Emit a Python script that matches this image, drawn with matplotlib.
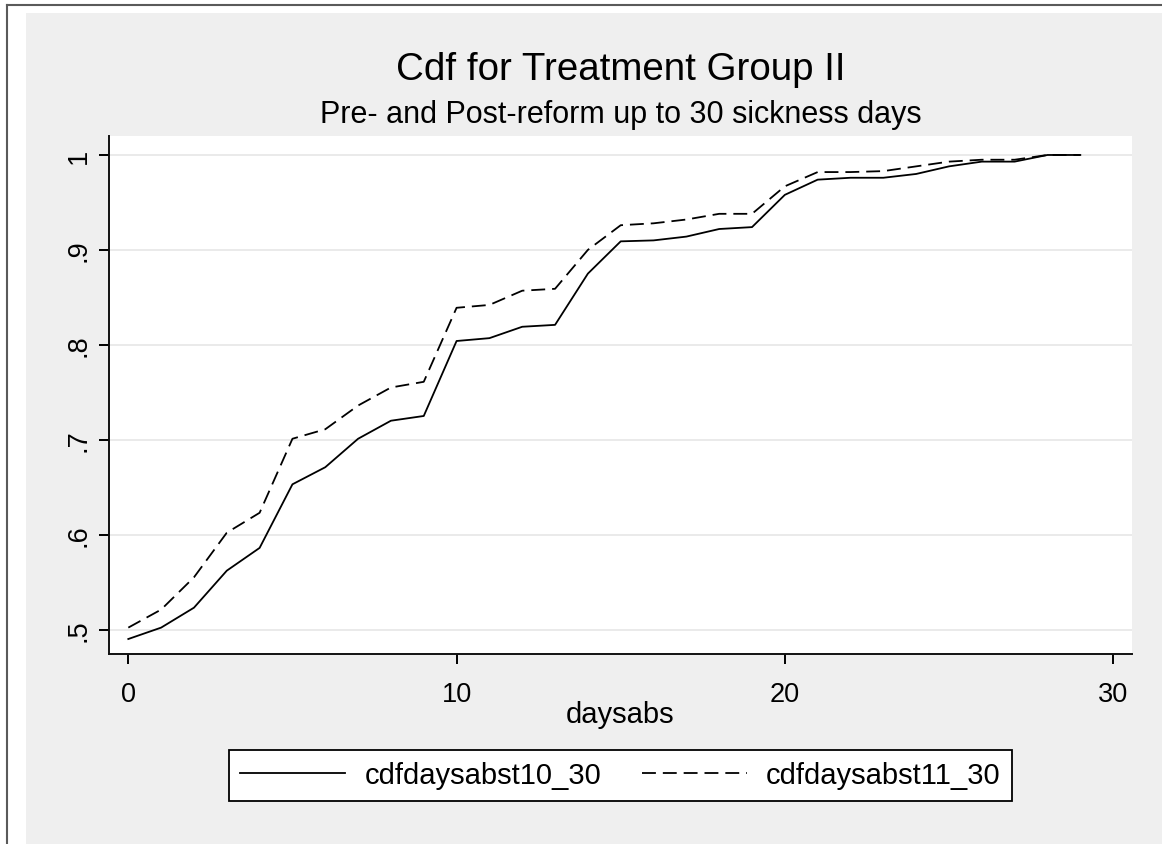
import matplotlib
matplotlib.use("Agg")
import matplotlib.pyplot as plt
from matplotlib.patches import Rectangle
from matplotlib.lines import Line2D

plt.rcParams['font.family'] = ['Liberation Sans', 'DejaVu Sans']
plt.rcParams['lines.scale_dashes'] = False

# data
days = list(range(30))
cdf10 = [0.490, 0.502, 0.523, 0.562, 0.586, 0.653, 0.671, 0.701, 0.720, 0.725,
         0.804, 0.807, 0.819, 0.821, 0.875, 0.909, 0.910, 0.914, 0.922, 0.924,
         0.958, 0.974, 0.976, 0.976, 0.980, 0.988, 0.993, 0.993, 1.000, 1.000]
cdf11 = [0.502, 0.521, 0.555, 0.602, 0.623, 0.701, 0.711, 0.736, 0.755, 0.761,
         0.839, 0.842, 0.857, 0.859, 0.900, 0.926, 0.928, 0.932, 0.938, 0.938,
         0.967, 0.982, 0.982, 0.983, 0.988, 0.993, 0.995, 0.995, 1.000, 1.000]
xticks = [0, 10, 20, 30]
yticks = [0.5, 0.6, 0.7, 0.8, 0.9, 1.0]
ytick_labels = ['.5', '.6', '.7', '.8', '.9', '1']

W, H = 1162, 845
fig = plt.figure(figsize=(W / 100, H / 100), dpi=100, facecolor='white')

# grey graph region and window frame
fig.patches.append(Rectangle((26 / W, 0), 1 - 26 / W, 1 - 14 / H,
                             transform=fig.transFigure, facecolor='#efefef',
                             edgecolor='none', zorder=-10))
fig.lines.append(Line2D([7 / W, 1], [1 - 5.5 / H, 1 - 5.5 / H],
                        transform=fig.transFigure, color='#5a5a5a', lw=1.5,
                        zorder=-5))
fig.lines.append(Line2D([7 / W, 7 / W], [0, 1 - 5.5 / H],
                        transform=fig.transFigure, color='#5a5a5a', lw=1.5,
                        zorder=-5))

ax = fig.add_axes([109.3 / W, 1 - 655 / H, (1131.5 - 109.3) / W, (655 - 137) / H])
ax.set_zorder(1)
ax.set_facecolor('white')

ax.plot(days, cdf10, color='black', lw=1.3, label='cdfdaysabst10_30', zorder=3)
ax.plot(days, cdf11, color='black', lw=1.3, dashes=(10, 5),
        label='cdfdaysabst11_30', zorder=3)

ax.set_xlim(-0.579, 30.56)
ax.set_ylim(0.4742, 1.020)
ax.set_xticks(xticks)
ax.set_yticks(yticks)
ax.set_yticklabels(ytick_labels, rotation=90, va='center')

ax.grid(axis='y', color='#e6e6e6', lw=1.2, zorder=0)
ax.set_axisbelow(True)

for side in ['top', 'right']:
    ax.spines[side].set_visible(False)
for side in ['left', 'bottom']:
    ax.spines[side].set_linewidth(1.4)
    ax.spines[side].set_color('#111111')

ax.tick_params(axis='x', length=7.5, width=1.4, labelsize=19.5, pad=12)
ax.tick_params(axis='y', length=7.5, width=1.4, labelsize=19.5, pad=5)

cx = (109.3 + 1131.5) / 2 / W
fig.text(cx, 1 - 80 / H, 'Cdf for Treatment Group II', ha='center',
         va='baseline', fontsize=27.7)
fig.text(cx, 1 - 123 / H, 'Pre- and Post-reform up to 30 sickness days',
         ha='center', va='baseline', fontsize=22)
fig.text(cx, 1 - 723 / H, 'daysabs', ha='center', va='baseline', fontsize=21)

leg = fig.legend(loc='center', bbox_to_anchor=(cx, 1 - 776.5 / H), ncol=2,
                 fontsize=21, frameon=True, fancybox=False, handlelength=3.6,
                 handletextpad=0.65, columnspacing=1.4, borderpad=0.4,
                 borderaxespad=0)
leg.get_frame().set_edgecolor('black')
leg.get_frame().set_linewidth(1.3)
leg.get_frame().set_facecolor('white')
leg.get_frame().set_alpha(1)

fig.savefig('out.png', dpi=100, facecolor=fig.get_facecolor())
